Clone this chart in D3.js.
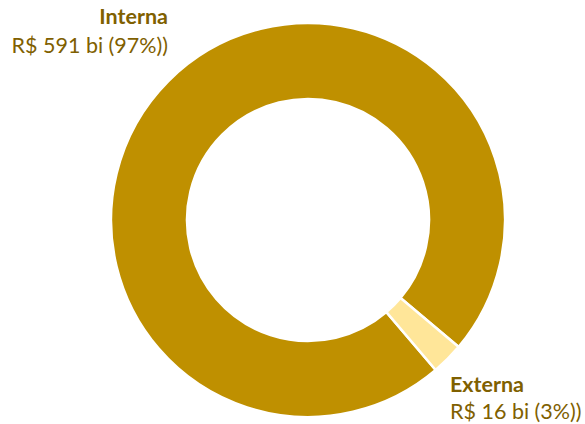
<!DOCTYPE html>
<html><head><meta charset="utf-8">
<script src="https://cdn.jsdelivr.net/npm/d3@7"></script>
<style>body{margin:0;background:#fff}svg{display:block}</style>
</head><body>
<script>
const categories = ["Interna", "Externa"];
const values = [591, 16];
const valueLabels = ["R$ 591 bi (97%))", "R$ 16 bi (3%))"];
const colors = ["#bf9000", "#ffe699"];

const W = 585, H = 424;
const svg = d3.select("body").append("svg").attr("width", W).attr("height", H);
const cx = 308, cy = 220, R = 197, r = 121;
const start = 139.6 * Math.PI / 180;
const pie = d3.pie().sort(null).startAngle(start).endAngle(start + 2 * Math.PI);
const arc = d3.arc().innerRadius(r).outerRadius(R);
const g = svg.append("g").attr("transform", `translate(${cx},${cy})`);
g.selectAll("path").data(pie(values)).join("path")
  .attr("d", arc)
  .attr("fill", (d, i) => colors[i])
  .attr("stroke", "#fff").attr("stroke-width", 2.5).attr("stroke-linejoin", "miter");

const font = "Lato, 'Open Sans', sans-serif";
const labels = [
  {x: 168, y1: 24, y2: 53, anchor: "end"},
  {x: 450, y1: 392, y2: 419, anchor: "start"}
];
categories.forEach((c, i) => {
  const L = labels[i];
  const t = svg.append("text").attr("font-family", font).attr("fill", "#7f6000")
    .attr("text-anchor", L.anchor).attr("font-size", 21.5);
  t.append("tspan").attr("x", L.x).attr("y", L.y1).attr("font-weight", "bold").text(c);
  t.append("tspan").attr("x", L.x).attr("y", L.y2).text(valueLabels[i]);
});
</script>
</body></html>
